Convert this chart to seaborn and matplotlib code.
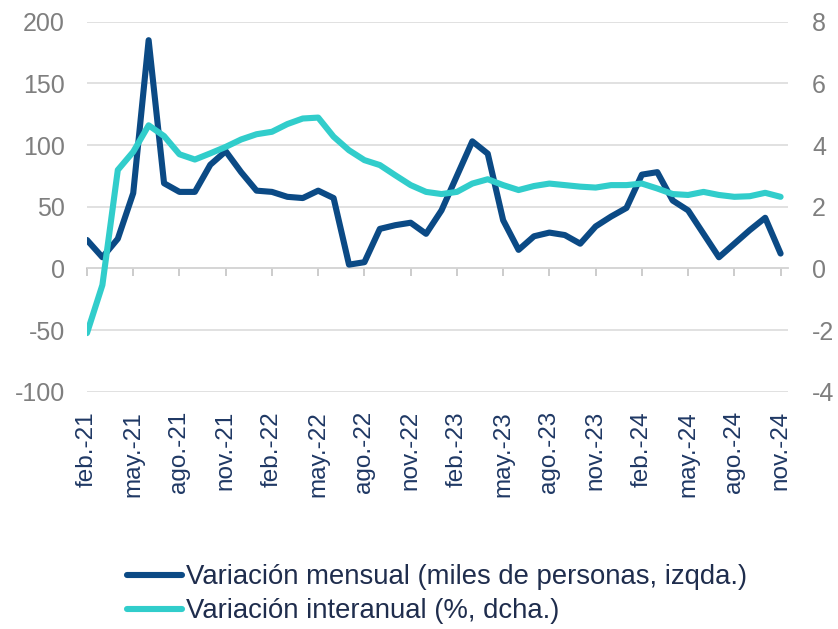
import numpy as np
import pandas as pd
import matplotlib.pyplot as plt
import seaborn as sns

# Monthly data, feb-21 .. nov-24
mensual = [23, 9, 24, 61, 185, 69, 62, 62, 84, 95, 78, 63,
           62, 58, 57, 63, 57, 3, 5, 32, 35, 37, 28, 47,
           75, 103, 93, 39, 15, 26, 29, 27, 20, 34, 42, 49,
           76, 78, 55, 47, 28, 9, 20, 31, 41, 12]
interanual = [-2.1, -0.54, 3.19, 3.78, 4.64, 4.29, 3.7, 3.53, 3.73, 3.94, 4.18, 4.35,
              4.43, 4.68, 4.86, 4.89, 4.27, 3.83, 3.51, 3.35, 3.02, 2.7, 2.48, 2.41,
              2.48, 2.75, 2.89, 2.7, 2.54, 2.67, 2.75, 2.7, 2.65, 2.62, 2.7, 2.7,
              2.75, 2.59, 2.41, 2.38, 2.48, 2.38, 2.32, 2.34, 2.45, 2.32]
tick_labels = ["feb.-21", "may.-21", "ago.-21", "nov.-21",
               "feb.-22", "may.-22", "ago.-22", "nov.-22",
               "feb.-23", "may.-23", "ago.-23", "nov.-23",
               "feb.-24", "may.-24", "ago.-24", "nov.-24"]

label_mensual = "Variación mensual (miles de personas, izqda.)"
label_interanual = "Variación interanual (%, dcha.)"

navy = "#0B4A85"
turq = "#31CDCB"
grey = "#7F7F7F"
grid_col = "#D9D9D9"

df = pd.DataFrame({"mes": np.arange(len(mensual)),
                   "mensual": mensual,
                   "interanual": interanual})

sns.set_theme(style="white")
plt.rcParams['font.family'] = ['Liberation Sans', 'DejaVu Sans']
plt.rcParams['axes.unicode_minus'] = False

fig = plt.figure(figsize=(8.38, 6.29), dpi=100)
ax = fig.add_axes([0.1038, 0.3773, 0.9407 - 0.1038, 0.9655 - 0.3773])
ax2 = ax.twinx()

sns.lineplot(data=df, x="mes", y="mensual", ax=ax, color=navy, lw=4.4,
             label=label_mensual, legend=False)
sns.lineplot(data=df, x="mes", y="interanual", ax=ax2, color=turq, lw=4.4,
             label=label_interanual, legend=False)

ax.set_xlim(0, len(mensual) - 0.5)
ax.set_ylim(-100, 200)
ax2.set_ylim(-4, 8)
ax.set_yticks(np.arange(-100, 201, 50))
ax2.set_yticks(np.arange(-4, 9, 2))

ax.grid(axis="y", color=grid_col, lw=1.1)
ax.grid(axis="x", visible=False)
ax2.grid(False)

for a in (ax, ax2):
    for s in a.spines.values():
        s.set_visible(False)

ax.set_xlabel("")
ax.set_ylabel("")
ax2.set_ylabel("")

ax.tick_params(axis="y", labelsize=18, labelcolor=grey, length=0, pad=16)
ax2.tick_params(axis="y", labelsize=18, labelcolor=grey, length=0, pad=17)

# category labels at the bottom, tick marks on the zero line
xt = np.arange(0, len(mensual), 3)
ax.set_xticks(xt)
ax.set_xticklabels(tick_labels, rotation=90, fontsize=17.5, color="#1F3864")
ax.tick_params(axis="x", length=0, pad=14)

zero_ax = ax.secondary_xaxis(100 / 300)
zero_ax.set_xticks(xt)
zero_ax.set_xticklabels([])
zero_ax.tick_params(axis="x", direction="out", length=6, width=1.1, color="#BFBFBF")
zero_ax.spines["bottom"].set_color("#BFBFBF")
zero_ax.spines["bottom"].set_linewidth(1.1)

h1, l1 = ax.get_legend_handles_labels()
h2, l2 = ax2.get_legend_handles_labels()
fig.legend(h1 + h2, l1 + l2, loc="upper left", bbox_to_anchor=(0.152, 0.103),
           frameon=False, fontsize=19.8, handlelength=2.0, handletextpad=0.12,
           labelspacing=0.3, borderpad=0, borderaxespad=0, labelcolor="#1F2D4D")

fig.savefig("out.png", dpi=100)
